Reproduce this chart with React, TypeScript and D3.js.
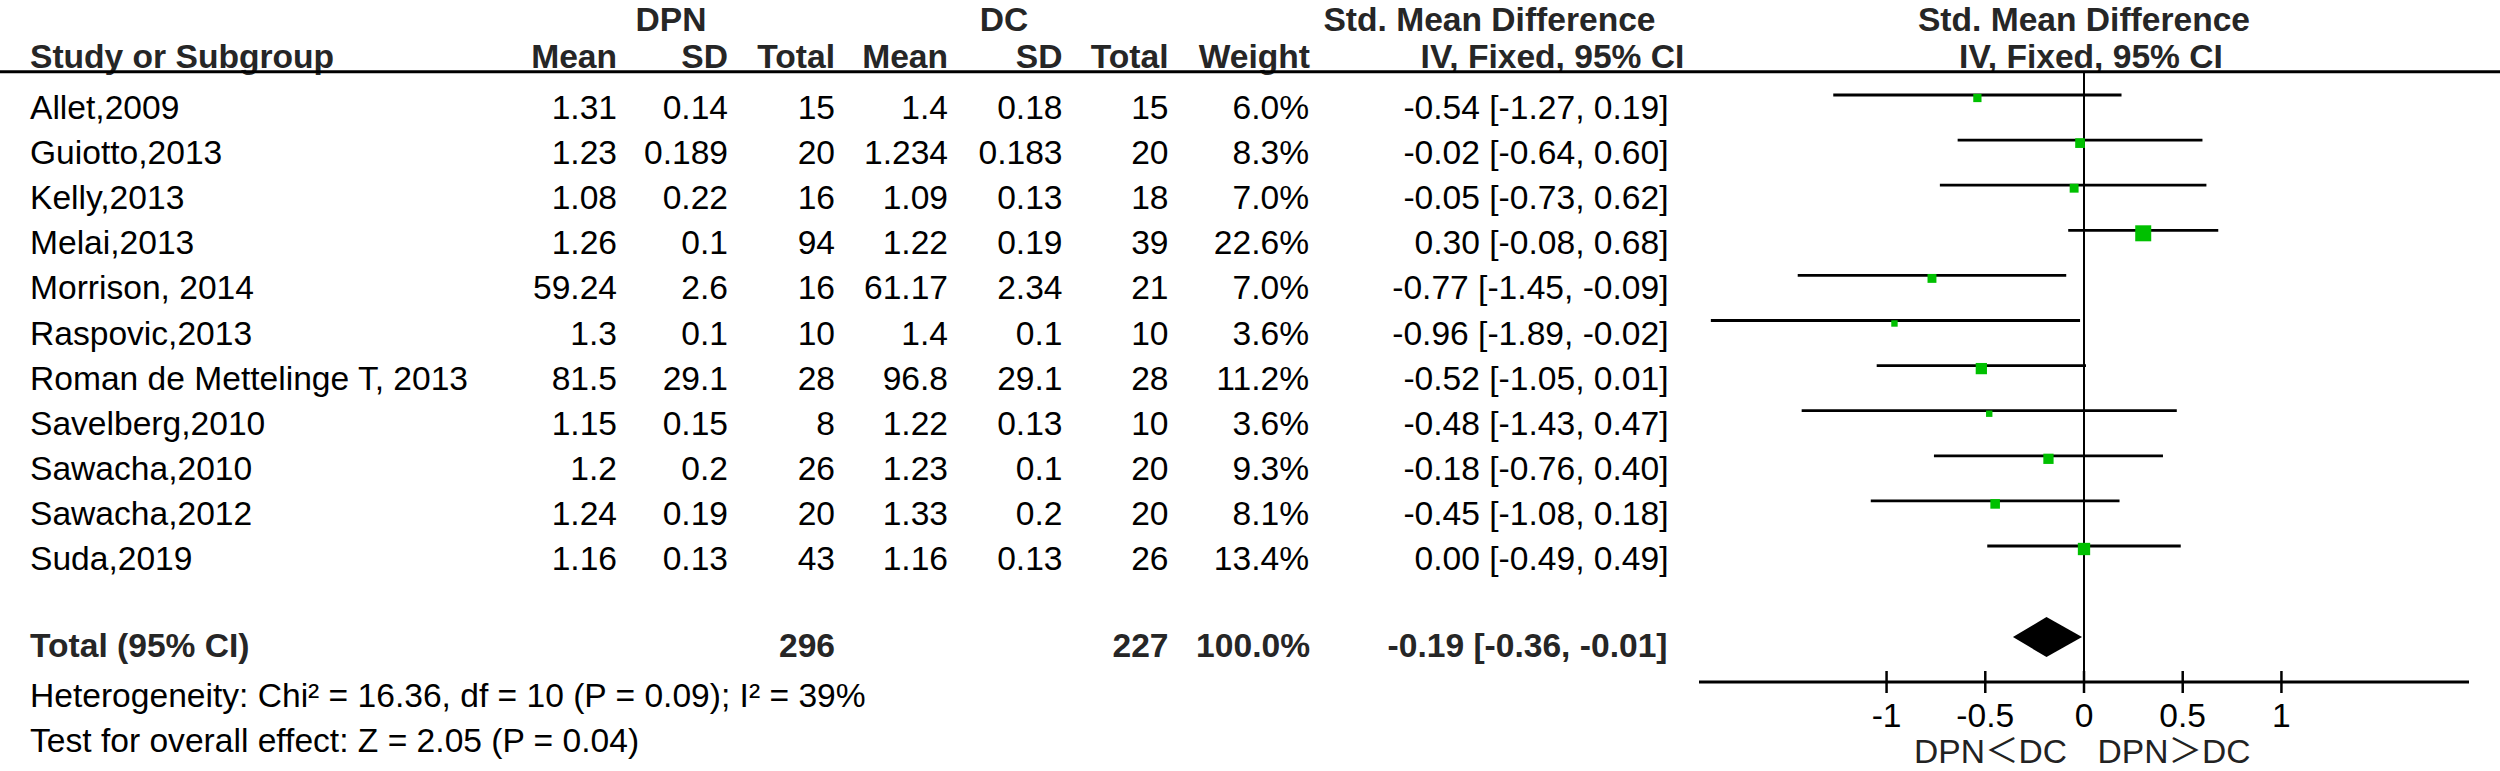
import React from "react";
import * as d3 from "d3";

const studies = [
  "Allet,2009", "Guiotto,2013", "Kelly,2013", "Melai,2013", "Morrison, 2014",
  "Raspovic,2013", "Roman de Mettelinge T, 2013", "Savelberg,2010",
  "Sawacha,2010", "Sawacha,2012", "Suda,2019",
];
const dpnMean = [1.31, 1.23, 1.08, 1.26, 59.24, 1.3, 81.5, 1.15, 1.2, 1.24, 1.16];
const dpnSD = [0.14, 0.189, 0.22, 0.1, 2.6, 0.1, 29.1, 0.15, 0.2, 0.19, 0.13];
const dpnN = [15, 20, 16, 94, 16, 10, 28, 8, 26, 20, 43];
const dcMean = [1.4, 1.234, 1.09, 1.22, 61.17, 1.4, 96.8, 1.22, 1.23, 1.33, 1.16];
const dcSD = [0.18, 0.183, 0.13, 0.19, 2.34, 0.1, 29.1, 0.13, 0.1, 0.2, 0.13];
const dcN = [15, 20, 18, 39, 21, 10, 28, 10, 20, 20, 26];
const weights = [6.0, 8.3, 7.0, 22.6, 7.0, 3.6, 11.2, 3.6, 9.3, 8.1, 13.4];
const smd = [-0.54, -0.02, -0.05, 0.3, -0.77, -0.96, -0.52, -0.48, -0.18, -0.45, 0.0];
const ciLow = [-1.27, -0.64, -0.73, -0.08, -1.45, -1.89, -1.05, -1.43, -0.76, -1.08, -0.49];
const ciHigh = [0.19, 0.6, 0.62, 0.68, -0.09, -0.02, 0.01, 0.47, 0.4, 0.18, 0.49];

const totalDPN = 296;
const totalDC = 227;
const totalWeight = 100.0;
const totalSMD = -0.19;
const totalLow = -0.36;
const totalHigh = -0.01;

const heterogeneityText = "Heterogeneity: Chi² = 16.36, df = 10 (P = 0.09); I² = 39%";
const overallText = "Test for overall effect: Z = 2.05 (P = 0.04)";
const axisTicks = [-1, -0.5, 0, 0.5, 1];
const axisTickLabels = ["-1", "-0.5", "0", "0.5", "1"];
const favoursLeft = "DPN＜DC";
const favoursRight = "DPN＞DC";

const FONT = '"Liberation Sans", Arial, "Noto Sans CJK SC", sans-serif';
const FS = 33.6;
const BOLD_COLOR = "#262626";

const fmt2 = (v: number) => v.toFixed(2);
const ciText = (m: number, l: number, h: number) => `${fmt2(m)} [${fmt2(l)}, ${fmt2(h)}]`;

export default function App() {
  const W = 2500;
  const H = 771;
  const x = d3.scaleLinear().domain([-1.95, 1.95]).range([1699, 2469]);
  const rowBase = d3.scaleLinear().domain([0, 1]).range([119, 164.1]);
  const sq = d3.scaleSqrt().domain([0, 22.6]).range([0, 16]);

  const cols = {
    name: 30,
    dpnMean: 617,
    dpnSD: 728,
    dpnN: 835,
    dcMean: 948,
    dcSD: 1062.5,
    dcN: 1168.5,
    weight: 1309,
    ci: 1668.5,
  };

  const T = (props: any) => (
    <text fontFamily={FONT} fontSize={FS} fill="#000" {...props} />
  );
  const B = (props: any) => (
    <text fontFamily={FONT} fontSize={FS} fontWeight="bold" fill={BOLD_COLOR} {...props} />
  );

  const totalBase = rowBase(11.93);
  const hetBase = rowBase(13) + 2;
  const testBase = rowBase(14) + 2;
  const axisY = 682;
  const x0 = x(0);
  const head1 = 31;

  return (
    <svg
      width={W}
      height={H}
      viewBox={`0 0 ${W} ${H}`}
      style={{ position: "absolute", left: 0, top: 0, display: "block", background: "#fff" }}
    >
      <rect x={0} y={0} width={W} height={H} fill="#fff" />
      {/* header row 1 */}
      <B x={671} y={head1} textAnchor="middle">DPN</B>
      <B x={1004} y={head1} textAnchor="middle">DC</B>
      <B x={1489.5} y={head1} textAnchor="middle">Std. Mean Difference</B>
      <B x={x0} y={head1} textAnchor="middle">Std. Mean Difference</B>
      {/* header row 2 */}
      <B x={cols.name} y={68}>Study or Subgroup</B>
      <B x={cols.dpnMean} y={68} textAnchor="end">Mean</B>
      <B x={cols.dpnSD} y={68} textAnchor="end">SD</B>
      <B x={cols.dpnN} y={68} textAnchor="end">Total</B>
      <B x={cols.dcMean} y={68} textAnchor="end">Mean</B>
      <B x={cols.dcSD} y={68} textAnchor="end">SD</B>
      <B x={cols.dcN} y={68} textAnchor="end">Total</B>
      <B x={cols.weight + 1} y={68} textAnchor="end">Weight</B>
      <B x={1552.5} y={68} textAnchor="middle">IV, Fixed, 95% CI</B>
      <B x={x0 + 7} y={68} textAnchor="middle">IV, Fixed, 95% CI</B>
      <line x1={0} x2={W} y1={71.7} y2={71.7} stroke="#000" strokeWidth={3} />

      {/* zero line */}
      <line x1={x0} x2={x0} y1={73} y2={axisY} stroke="#000" strokeWidth={2} />

      {studies.map((s, i) => {
        const yb = rowBase(i);
        const ym = yb - 21;
        const side = sq(weights[i]);
        return (
          <g key={s}>
            <T x={cols.name} y={yb}>{s}</T>
            <T x={cols.dpnMean} y={yb} textAnchor="end">{String(dpnMean[i])}</T>
            <T x={cols.dpnSD} y={yb} textAnchor="end">{String(dpnSD[i])}</T>
            <T x={cols.dpnN} y={yb} textAnchor="end">{String(dpnN[i])}</T>
            <T x={cols.dcMean} y={yb} textAnchor="end">{String(dcMean[i])}</T>
            <T x={cols.dcSD} y={yb} textAnchor="end">{String(dcSD[i])}</T>
            <T x={cols.dcN} y={yb} textAnchor="end">{String(dcN[i])}</T>
            <T x={cols.weight} y={yb} textAnchor="end">{weights[i].toFixed(1) + "%"}</T>
            <T x={cols.ci} y={yb} textAnchor="end">{ciText(smd[i], ciLow[i], ciHigh[i])}</T>
            <line
              x1={x(ciLow[i])}
              x2={x(ciHigh[i])}
              y1={ym - 3}
              y2={ym - 3}
              stroke="#000"
              strokeWidth={2.8}
            />
            <rect
              x={x(smd[i]) - side / 2}
              y={ym - side / 2}
              width={side}
              height={side}
              fill="#00c000"
            />
          </g>
        );
      })}

      {/* total row */}
      <B x={cols.name} y={totalBase}>Total (95% CI)</B>
      <B x={cols.dpnN} y={totalBase} textAnchor="end">{String(totalDPN)}</B>
      <B x={cols.dcN} y={totalBase} textAnchor="end">{String(totalDC)}</B>
      <B x={cols.weight + 1} y={totalBase} textAnchor="end">{totalWeight.toFixed(1) + "%"}</B>
      <B x={cols.ci - 1} y={totalBase} textAnchor="end">{ciText(totalSMD, totalLow, totalHigh)}</B>
      {(() => {
        const cy = totalBase - 20;
        const hh = 20;
        const p = d3.path();
        p.moveTo(x(totalLow), cy);
        p.lineTo(x(totalSMD), cy - hh);
        p.lineTo(x(totalHigh), cy);
        p.lineTo(x(totalSMD), cy + hh);
        p.closePath();
        return <path d={p.toString()} fill="#000" />;
      })()}

      <T x={cols.name} y={hetBase}>{heterogeneityText}</T>
      <T x={cols.name} y={testBase}>{overallText}</T>

      {/* axis */}
      <line x1={x.range()[0]} x2={x.range()[1]} y1={axisY} y2={axisY} stroke="#000" strokeWidth={3} />
      {axisTicks.map((t, i) => (
        <g key={t}>
          <line x1={x(t)} x2={x(t)} y1={axisY - 11} y2={axisY + 11} stroke="#000" strokeWidth={2.5} />
          <T x={x(t)} y={727} textAnchor="middle">{axisTickLabels[i]}</T>
        </g>
      ))}
      <T x={x0 - 17} y={763} textAnchor="end" fill="#222">{favoursLeft}</T>
      <T x={x0 + 13.5} y={763} fill="#222">{favoursRight}</T>
    </svg>
  );
}
